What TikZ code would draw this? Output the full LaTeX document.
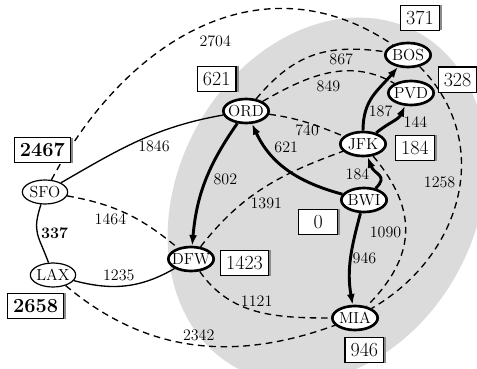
\documentclass[tikz,border=0pt]{standalone}
\usepackage{tikz}
\usetikzlibrary{shapes.geometric, arrows.meta, positioning, shadows}

\begin{document}
\begin{tikzpicture}[
    x=0.75pt, y=0.75pt,
    font=\fontsize{12}{14}\selectfont,
    city/.style={ellipse, draw=black, line width=0.9pt, fill=white, minimum width=34pt, minimum height=18pt, inner xsep=-3.5pt, inner ysep=-0.5pt},
    done/.style={city, line width=2pt},
    dist/.style={rectangle, draw=black, line width=0.8pt, fill=white, minimum width=29pt, minimum height=19pt, inner xsep=4pt, inner ysep=2pt, font=\fontsize{15}{17}\selectfont, drop shadow={shadow xshift=2pt, shadow yshift=0pt, fill=black!45, opacity=1}},
    solidleg/.style={line width=1pt},
    dashleg/.style={line width=1pt, dash pattern=on 5pt off 3.5pt},
    treeleg/.style={line width=2.2pt, -{Latex[length=8pt, width=6pt]}}
]
\useasboundingbox (0,0) rectangle (477,368);

\begin{scope}
  \clip (0,0) rectangle (477,368);
  \fill[black!14, rotate around={-28:(327,168)}] (327,168) ellipse [x radius=112pt, y radius=143pt];
\end{scope}

\node[done] (BOS) at (408,313) {BOS};
\node[done] (PVD) at (411,275) {PVD};
\node[done] (ORD) at (246,257) {ORD};
\node[done] (JFK) at (363,224) {JFK};
\node[done] (BWI) at (364,168) {BWI};
\node[city] (SFO) at (45,176) {SFO};
\node[city] (LAX) at (53,93) {LAX};
\node[done] (DFW) at (191,109) {DFW};
\node[done] (MIA) at (355,50) {MIA};

\draw[dashleg] (SFO) to[out=62, in=146, looseness=1.1] node[pos=.54, below=7pt] {2704} (BOS);
\draw[solidleg] (SFO) to[out=30, in=190] node[pos=.6, below=1pt] {1846} (ORD);
\draw[solidleg] (SFO) to[out=252, in=110, looseness=1.3] node[pos=.5, right=-1pt] {\bfseries 337} (LAX);
\draw[solidleg] (LAX) to[out=-15, in=210] node[pos=.43, above=0pt] {1235} (DFW);
\draw[dashleg] (SFO) to[out=-10, in=140] node[pos=.35, below=1pt] {1464} (DFW);
\draw[dashleg] (LAX) to[out=-40, in=200] node[pos=.52, above=-0.5pt] {2342} (MIA);
\draw[dashleg] (DFW) to[out=-55, in=180] node[pos=.5, above=0pt] {1121} (MIA);
\draw[treeleg] (ORD) to[out=235, in=85] node[pos=.48, right=1pt] {802} (DFW);
\draw[treeleg] (BWI) to[out=165, in=-65] node[pos=.65, above=0pt, xshift=8pt] {621} (ORD);
\draw[dashleg] (ORD) to[out=50, in=172, looseness=1.1] node[pos=.72, below=-1pt] {867} (BOS);
\draw[dashleg] (ORD) to[out=30, in=150] node[pos=.5, below=2pt] {849} (PVD);
\draw[dashleg] (ORD) to[out=-8, in=158] node[pos=.5, below=-2pt] {740} (JFK);
\draw[dashleg] (DFW) to[out=52, in=200] node[pos=.52, below=5pt] {1391} (JFK);
\draw[treeleg] (BWI) to[out=45, in=-70, looseness=1.5] node[pos=.5, left=3pt] {184} (JFK);
\draw[treeleg] (JFK) to[out=90, in=230, looseness=1.1] node[pos=.25, right=-2pt] {187} (BOS);
\draw[treeleg] (JFK) to[out=40, in=245] node[pos=.45, right=5pt] {144} (PVD);
\draw[treeleg] (BWI) to[out=255, in=100] node[pos=.5, right=-3pt] {946} (MIA);
\draw[dashleg] (JFK) to[out=-50, in=45, looseness=1.2] node[pos=.5, left=-0.5pt] {1090} (MIA);
\draw[dashleg] (BOS) to[out=-45, in=30, looseness=1.1] node[pos=.45, left=0pt] {1258} (MIA);

\node[dist, above=8pt of BOS, xshift=9pt] (dBOS) {371};
\node[dist, right=2pt of PVD, yshift=10pt] (dPVD) {328};
\node[dist, above=4pt of ORD, xshift=-22pt] (dORD) {621};
\node[dist, right=6pt of JFK, yshift=-3pt] (dJFK) {184};
\node[dist, left=1.5pt of BWI, yshift=-16.5pt] (dBWI) {0};
\node[dist, right=4pt of DFW, yshift=-3pt] (dDFW) {1423};
\node[dist, below=4pt of MIA, xshift=7pt] (dMIA) {946};
\node[dist, font=\fontsize{15}{17}\selectfont\bfseries, above=12pt of SFO, xshift=-2pt] (dSFO) {2467};
\node[dist, font=\fontsize{15}{17}\selectfont\bfseries, below=4pt of LAX, xshift=-13pt] (dLAX) {2658};

\end{tikzpicture}
\end{document}
